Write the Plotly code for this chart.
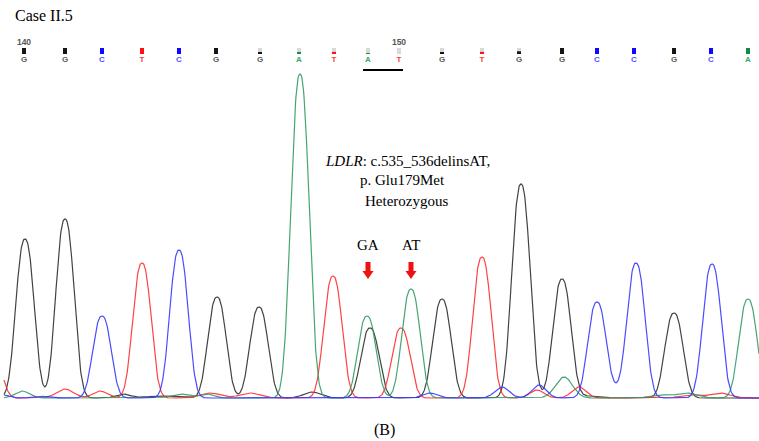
import numpy as np
import plotly.graph_objects as go

# ---------------- data ----------------
# base calls along the top
base_pos = [24, 65, 102, 142, 179, 216, 260, 299, 334, 368, 399, 442, 482, 519, 562, 597, 634, 674, 711, 748]
base_seq = ["G", "G", "C", "T", "C", "G", "G", "A", "T", "A", "T", "G", "T", "G", "G", "C", "C", "G", "C", "A"]
base_qual = [1.0, 1.0, 1.0, 1.0, 1.0, 1.0, 0.3, 0.25, 0.35, 0.12, 0.0, 0.2, 0.35, 0.45, 1.0, 1.0, 1.0, 1.0, 1.0, 1.0]
base_numbers = {0: "140", 10: "150"}
highlight = (9, 10)

# chromatogram peaks per dye: centre (scan), height (signal)
G_centers = [25, 65, 217, 259, 370, 442, 521, 562, 674]
G_heights = [159, 179, 101, 91, 70, 99, 214, 119, 85]
A_centers = [300, 367, 411, 748]
A_heights = [324, 82, 109, 99]
T_centers = [-8, 142, 333, 401, 482]
T_heights = [49, 135, 122, 70, 141]
C_centers = [102, 179, 597, 636, 712]
C_heights = [82, 148, 96, 135, 134]

# small background bumps: centre, height, width
G_noise = [(123, 4, 10), (160, 2, 20), (312, 6, 12), (590, 2, 14)]
A_noise = [(22, 7, 10), (180, 4, 12), (207, 4, 10), (564, 21, 12), (660, 3, 14), (687, 5, 14)]
T_noise = [(65, 9, 12), (100, 7, 10), (210, 5, 14), (250, 5, 14), (537, 8, 10), (579, 11, 10), (690, 3, 14), (720, 5, 14)]
C_noise = [(4, 3, 8), (40, 2, 10), (430, 5, 10), (502, 11, 10), (539, 13, 10), (616, 6, 8)]

mut_labels = ["GA", "AT"]
mut_x = [368, 411]

# ---------------- build traces ----------------
x = np.arange(4, 759.5, 0.5)
PEAK_W = 12.0
PEAK_P = 2.4


def trace(centers, heights, noise):
    y = np.zeros_like(x)
    for c, h in zip(centers, heights):
        y += h * np.exp(-(np.abs(x - c) / PEAK_W) ** PEAK_P)
    for c, h, w in noise:
        y += h * np.exp(-(np.abs(x - c) / w) ** 2)
    return y


dyes = [
    ("G", G_centers, G_heights, G_noise, "rgba(45,45,45,0.9)"),
    ("T", T_centers, T_heights, T_noise, "rgba(255,45,45,0.9)"),
    ("A", A_centers, A_heights, A_noise, "rgba(50,155,100,0.9)"),
    ("C", C_centers, C_heights, C_noise, "rgba(55,55,255,0.9)"),
]

fig = go.Figure()
for name, cs, hs, ns, col in dyes:
    fig.add_trace(go.Scatter(x=x, y=trace(cs, hs, ns), mode="lines",
                             line=dict(color=col, width=1.2), name=name,
                             hoverinfo="skip", showlegend=False))

letter_col = {"G": "#5a5a5a", "A": "#3aa66a", "T": "#ff3b3b", "C": "#5050ff"}
bar_col = {"G": "#151515", "A": "#128a48", "T": "#ff1010", "C": "#0a0aff"}

BAR_H = 6
BAR_BASE = 18
fig.add_trace(go.Bar(x=base_pos, y=[BAR_H] * len(base_pos), base=BAR_BASE, width=4,
                     marker=dict(color="#d9d9d9", line=dict(width=0)), yaxis="y2",
                     hoverinfo="skip", showlegend=False))
fig.add_trace(go.Bar(x=base_pos, y=[BAR_H * q for q in base_qual], base=BAR_BASE, width=4,
                     marker=dict(color=[bar_col[b] for b in base_seq], line=dict(width=0)),
                     yaxis="y2", hoverinfo="skip", showlegend=False))
fig.add_trace(go.Scatter(x=base_pos, y=[12] * len(base_pos), mode="text", text=base_seq,
                         textfont=dict(family="Liberation Sans, Arial", size=8,
                                       color=[letter_col[b] for b in base_seq], weight="bold"),
                         yaxis="y2", hoverinfo="skip", showlegend=False))
fig.add_trace(go.Scatter(x=[base_pos[i] for i in base_numbers], y=[29] * len(base_numbers),
                         mode="text", text=list(base_numbers.values()),
                         textfont=dict(family="Liberation Sans, Arial", size=8.5, color="#555555", weight="bold"),
                         yaxis="y2", hoverinfo="skip", showlegend=False))
fig.add_trace(go.Scatter(x=[base_pos[highlight[0]] - 5, base_pos[highlight[1]] + 4], y=[2, 2],
                         mode="lines", line=dict(color="black", width=2), yaxis="y2",
                         hoverinfo="skip", showlegend=False))

# mutation arrows (path shapes in data units) and labels
shapes = []
tip = 119
for mx in mut_x:
    path = (f"M {mx-2.5},{tip+17} L {mx+2.5},{tip+17} L {mx+2.5},{tip+8} L {mx+5.5},{tip+8} "
            f"L {mx},{tip} L {mx-5.5},{tip+8} L {mx-2.5},{tip+8} Z")
    shapes.append(dict(type="path", path=path, xref="x", yref="y",
                       fillcolor="#ee1111", line=dict(width=0)))

serif = "Liberation Serif, Times New Roman, serif"
W, H = 759, 441
annotations = []
for lab, mx in zip(mut_labels, mut_x):
    annotations.append(dict(x=mx, y=398 - 245, xref="x", yref="y", text=lab, showarrow=False,
                            font=dict(family=serif, size=15, color="black")))

def pann(text, px, py, size=15, xanchor="center"):
    annotations.append(dict(x=px / W, y=1 - py / H, xref="paper", yref="paper", text=text,
                            showarrow=False, xanchor=xanchor, yanchor="middle",
                            font=dict(family=serif, size=size, color="black")))

pann("<i>LDLR</i>: c.535_536delinsAT,", 407, 161)
pann("p. Glu179Met", 402, 180)
pann("Heterozygous", 406, 201)
pann("Case II.5", 13, 16, size=16, xanchor="left")
pann("(B)", 384, 430, size=16)

fig.update_layout(
    width=W, height=H,
    margin=dict(l=0, r=0, t=0, b=0),
    paper_bgcolor="white", plot_bgcolor="white",
    barmode="overlay",
    xaxis=dict(range=[0, W], visible=False, fixedrange=True),
    yaxis=dict(range=[-43, 398], domain=[0, 1], visible=False, fixedrange=True),
    yaxis2=dict(range=[0, 36], domain=[1 - 72 / H, 1 - 36 / H], visible=False,
                anchor="x", fixedrange=True),
    shapes=shapes,
    annotations=annotations,
    showlegend=False,
)

fig.write_html("out.html", config={"displayModeBar": False},
               post_script="document.body.style.margin='0px';document.body.style.overflow='hidden';")
